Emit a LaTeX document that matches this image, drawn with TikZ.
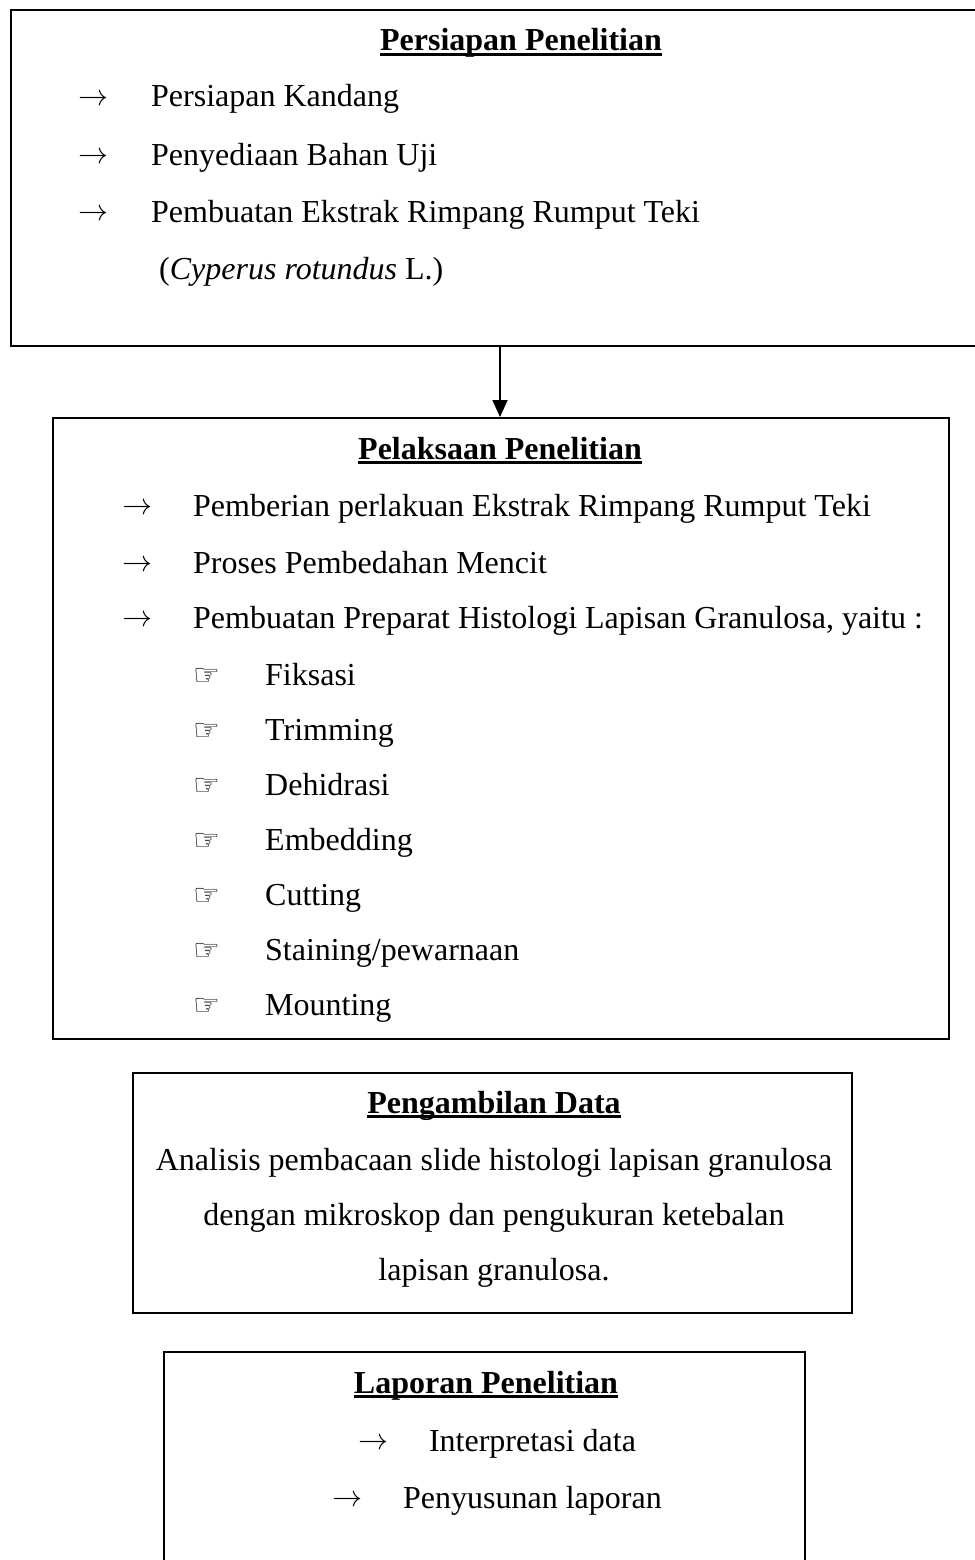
\documentclass[tikz,border=0pt]{standalone}
\usepackage{fontspec}
\usepackage{graphicx}
\setmainfont{Liberation Serif}
\newfontfamily\handfont{DejaVu Sans}
\usetikzlibrary{arrows.meta}
\newcommand\myul[1]{\setbox0\hbox{#1}\rlap{\rule[-5pt]{\wd0}{2.6pt}}\box0}
\newcommand\hand{{\fontsize{30}{30}\selectfont\handfont ☞}}
\newcommand\rarr{\raisebox{1.5pt}{\resizebox{30pt}{!}{\(\rightarrow\)}}}
\tikzset{
  box/.style={draw, line width=1.8pt, inner sep=0pt, anchor=north west},
  txt/.style={inner sep=0pt, font=\fontsize{32}{38}\selectfont},
  ttl/.style={inner sep=0pt, font=\fontsize{32}{38}\selectfont\bfseries, anchor=base},
  item/.style={txt, anchor=base west},
  conn/.style={line width=1.8pt, -{Triangle[width=15pt,length=17pt]}}
}
\begin{document}
\begin{tikzpicture}[x=1pt,y=-1pt]
\useasboundingbox (0,0) rectangle (974,1560);
% boxes
\node[box, minimum width=1022pt, minimum height=336pt] (b1) at (10,9) {};
\node[box, minimum width=896pt, minimum height=621pt] (b2) at (52,417) {};
\node[box, minimum width=719pt, minimum height=240pt] (b3) at (132,1072) {};
\node[box, minimum width=641pt, minimum height=260pt] (b4) at (163,1351) {};
% connector
\coordinate (c1) at (500,345);
\draw[conn] (b1.south -| c1) -- (b2.north -| c1);
% box 1
\node[ttl] (t1) at (521,51) {\myul{Persiapan Penelitian}};
\node[item] (a11) at (78,107) {\rarr};
\node[item] (i11) at (151,107) {Persiapan Kandang};
\node[item] (a12) at (78,165) {\rarr};
\node[item] (i12) at (151,165) {Penyediaan Bahan Uji};
\node[item] (a13) at (78,222) {\rarr};
\node[item] (i13) at (151,222) {Pembuatan Ekstrak Rimpang Rumput Teki};
\node[item] (i14) at (159,279) {(\textit{Cyperus rotundus} L.)};
% box 2
\node[ttl] (t2) at (500,459) {\myul{Pelaksaan Penelitian}};
\node[item] (a21) at (122,516) {\rarr};
\node[item] (i21) at (193,516) {Pemberian perlakuan Ekstrak Rimpang Rumput Teki};
\node[item] (a22) at (122,573) {\rarr};
\node[item] (i22) at (193,573) {Proses Pembedahan Mencit};
\node[item] (a23) at (122,628) {\rarr};
\node[item] (i23) at (193,628) {Pembuatan Preparat Histologi Lapisan Granulosa, yaitu :};
\node[item] (h1) at (193,685) {\hand};
\node[item] (s1) at (265,685) {Fiksasi};
\node[item] (h2) at (193,740) {\hand};
\node[item] (s2) at (265,740) {Trimming};
\node[item] (h3) at (193,795) {\hand};
\node[item] (s3) at (265,795) {Dehidrasi};
\node[item] (h4) at (193,850) {\hand};
\node[item] (s4) at (265,850) {Embedding};
\node[item] (h5) at (193,905) {\hand};
\node[item] (s5) at (265,905) {Cutting};
\node[item] (h6) at (193,960) {\hand};
\node[item] (s6) at (265,960) {Staining/pewarnaan};
\node[item] (h7) at (193,1015) {\hand};
\node[item] (s7) at (265,1015) {Mounting};
% box 3
\node[ttl] (t3) at (494,1113) {\myul{Pengambilan Data}};
\node[txt, anchor=base] (l31) at (494,1170) {Analisis pembacaan slide histologi lapisan granulosa};
\node[txt, anchor=base] (l32) at (494,1225) {dengan mikroskop dan pengukuran ketebalan};
\node[txt, anchor=base] (l33) at (494,1280) {lapisan granulosa.};
% box 4
\node[ttl] (t4) at (486,1393) {\myul{Laporan Penelitian}};
\node[txt, anchor=base] (l41) at (497,1451) {\rarr\hspace{41pt}Interpretasi data};
\node[txt, anchor=base] (l42) at (497,1508) {\rarr\hspace{41pt}Penyusunan laporan};
\end{tikzpicture}
\end{document}
